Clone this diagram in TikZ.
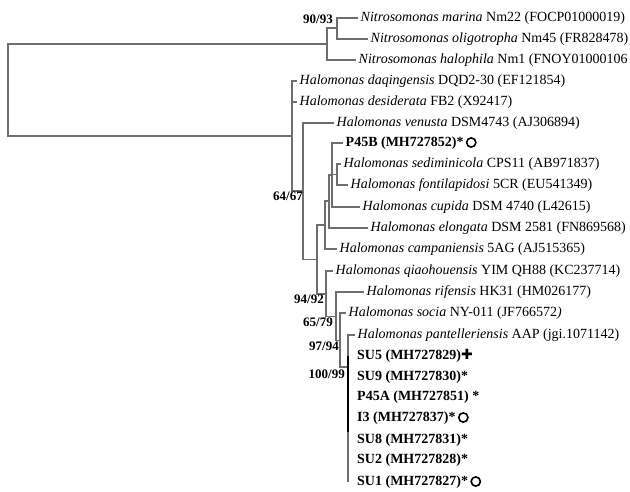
\documentclass[tikz,border=0pt]{standalone}
\usepackage{fontspec}
\setmainfont{Liberation Serif}
\newfontfamily\symfont{DejaVu Sans}
\definecolor{branchgray}{HTML}{6E6E6E}
\newcommand{\ring}{\tikz[baseline=-0.6ex]\draw[line width=1.6pt] (0,0) circle (0.33em);}
\newcommand{\heavycross}{{\symfont ✚}}

\begin{document}
\begin{tikzpicture}[x=1pt,y=-1pt,
    elbow/.style={draw=branchgray,line width=1.1pt,to path={|- (\tikztotarget)}},
    tip/.style={anchor=west,inner xsep=2.5pt,inner ysep=0pt,font=\fontsize{14}{16}\selectfont},
    strain/.style={anchor=west,inner xsep=9pt,inner ysep=0pt,font=\fontsize{14}{16}\selectfont\bfseries},
    boot/.style={anchor=north east,inner sep=1pt,font=\fontsize{13}{15}\selectfont\bfseries}]
\useasboundingbox (0,0) rectangle (630,492);

\coordinate (root) at (8,90);
\coordinate (nit) at (327,44);
\coordinate (nin) at (337,28);
\coordinate (hal) at (292,136);
\coordinate (n6467) at (303,191);
\coordinate (nc) at (317,259.5);
\coordinate (n3) at (325,225);
\coordinate (n5) at (329,201);
\coordinate (n1) at (332,175);
\coordinate (n2) at (337,174.5);
\coordinate (n9492) at (326,294);
\coordinate (n6579) at (336,316.5);
\coordinate (n9794) at (340,340.5);
\coordinate (n10099) at (348,367);
\coordinate (clbot) at (348,432);

\node[tip] (marina) at (358,18) {\textit{Nitrosomonas marina} Nm22 (FOCP01000019)};
\node[tip] (olig) at (368,39) {\textit{Nitrosomonas oligotropha} Nm45 (FR828478)};
\node[tip] (halo) at (356,60) {\textit{Nitrosomonas halophila} Nm1 (FNOY01000106};
\node[tip] (daq) at (297,81) {\textit{Halomonas daqingensis} DQD2-30 (EF121854)};
\node[tip] (des) at (297,102) {\textit{Halomonas desiderata} FB2 (X92417)};
\node[tip] (ven) at (334,123) {\textit{Halomonas venusta} DSM4743 (AJ306894)};
\node[tip,font=\fontsize{14}{16}\selectfont\bfseries] (p45b) at (343,143) {P45B (MH727852)*\,\ring};
\node[tip] (sed) at (341,164) {\textit{Halomonas sediminicola} CPS11 (AB971837)};
\node[tip] (fon) at (348,185) {\textit{Halomonas fontilapidosi} 5CR (EU541349)};
\node[tip] (cup) at (360,207) {\textit{Halomonas cupida} DSM 4740 (L42615)};
\node[tip] (elo) at (368,228) {\textit{Halomonas elongata} DSM 2581 (FN869568)};
\node[tip] (cam) at (337,249) {\textit{Halomonas campaniensis} 5AG (AJ515365)};
\node[tip] (qia) at (333,271) {\textit{Halomonas qiaohouensis} YIM QH88 (KC237714)};
\node[tip] (rif) at (364,292) {\textit{Halomonas rifensis} HK31 (HM026177)};
\node[tip] (soc) at (346,313) {\textit{Halomonas socia} NY-011 (JF766572\textit{)}};
\node[tip] (pan) at (355,335) {\textit{Halomonas pantelleriensis} AAP (jgi.1071142)};
\node[strain] (su5) at (348,356) {SU5 (MH727829)\heavycross};
\node[strain] (su9) at (348,377) {SU9 (MH727830)*};
\node[strain] (p45a) at (348,397) {P45A (MH727851) *};
\node[strain] (i3) at (348,418) {I3 (MH727837)*\,\ring};
\node[strain] (su8) at (348,440) {SU8 (MH727831)*};
\node[strain] (su2) at (348,460) {SU2 (MH727828)*};
\node[strain] (su1) at (348,482) {SU1 (MH727827)*\,\ring};

\path (root) edge[elbow] (nit) edge[elbow] (hal)
    (nit) edge[elbow] (nin) edge[elbow] (halo)
    (nin) edge[elbow] (marina) edge[elbow] (olig)
    (hal) edge[elbow] (daq) edge[elbow] (des) edge[elbow] (n6467)
    (n6467) edge[elbow] (ven) edge[elbow] (nc)
    (nc) edge[elbow] (n3) edge[elbow] (n9492)
    (n3) edge[elbow] (n5) edge[elbow] (cam)
    (n5) edge[elbow] (n1) edge[elbow] (elo)
    (n1) edge[elbow] (p45b) edge[elbow] (n2) edge[elbow] (cup)
    (n2) edge[elbow] (sed) edge[elbow] (fon)
    (n9492) edge[elbow] (qia) edge[elbow] (n6579)
    (n6579) edge[elbow] (rif) edge[elbow] (n9794)
    (n9794) edge[elbow] (soc) edge[elbow] (n10099)
    (n10099) edge[elbow] (pan) edge[elbow] (su5) edge[elbow] (su9) edge[elbow] (p45a)
        edge[elbow] (i3) edge[elbow] (su8) edge[elbow] (su2) edge[elbow] (su1);
\draw[line width=2.4pt] (su5.west) -- (clbot);

\node[boot,anchor=south east] (l9093) at (334,25) {90/93};
\node[boot] (l6467) at (304,191) {64/67};
\node[boot] (l9492) at (325,294) {94/92};
\node[boot] (l6579) at (334,316.5) {65/79};
\node[boot] (l9794) at (340,340.5) {97/94};
\node[boot] (l10099) at (346,369) {100/99};
\end{tikzpicture}
\end{document}
